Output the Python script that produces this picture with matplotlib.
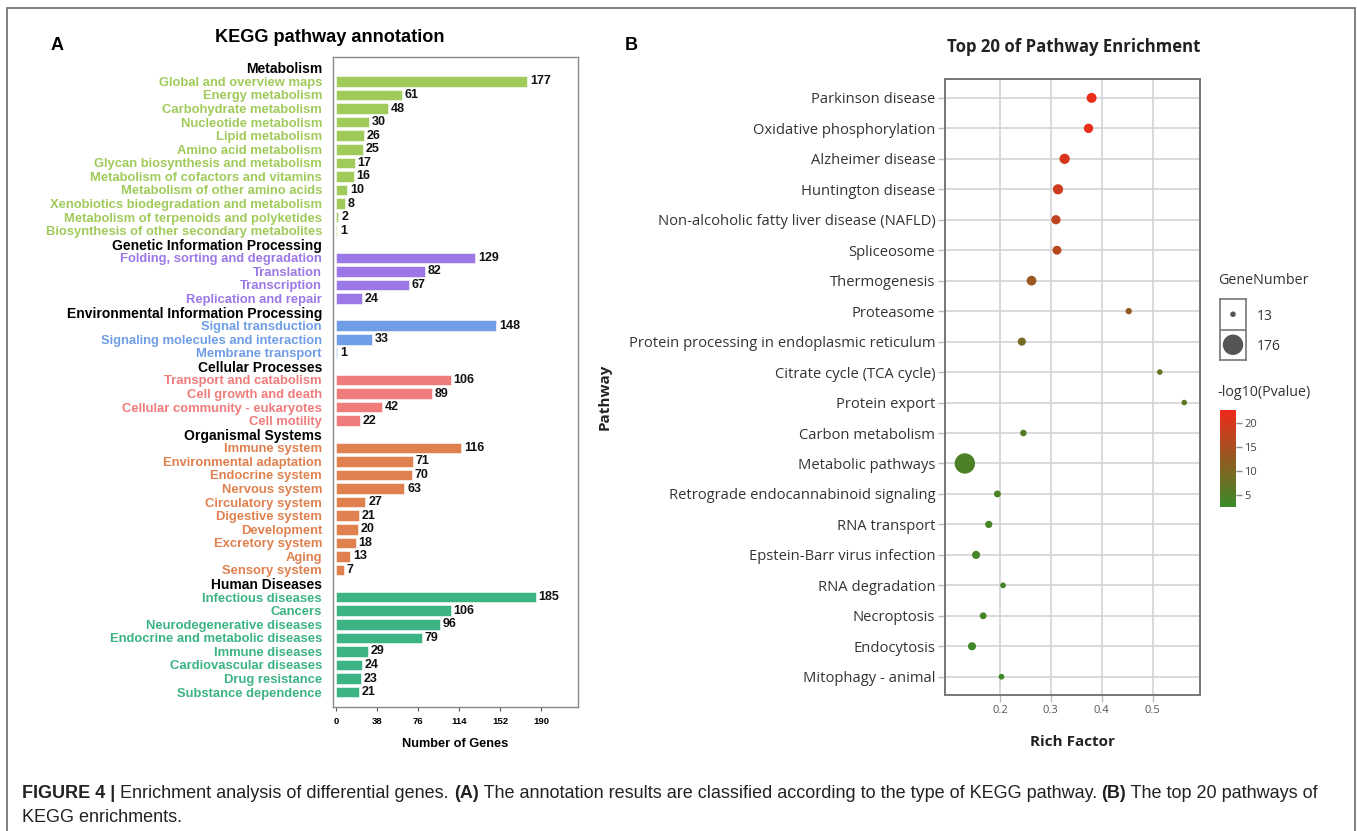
import numpy as np
import matplotlib.pyplot as plt
from matplotlib.colors import LinearSegmentedColormap, Normalize
from matplotlib.patches import Rectangle

plt.rcParams['font.family'] = ['Liberation Sans', 'DejaVu Sans']

W, H = 1357, 831

# ---- panel A data: KEGG level-2 categories grouped by level-1 class ----
groups = ["Metabolism", "Genetic Information Processing",
          "Environmental Information Processing", "Cellular Processes",
          "Organismal Systems", "Human Diseases"]
group_colors = ["#a0cb5a", "#9b78e6", "#6f9de6", "#ef7b7b", "#e0804e", "#3bb383"]

metabolism = ["Global and overview maps", "Energy metabolism", "Carbohydrate metabolism",
              "Nucleotide metabolism", "Lipid metabolism", "Amino acid metabolism",
              "Glycan biosynthesis and metabolism", "Metabolism of cofactors and vitamins",
              "Metabolism of other amino acids", "Xenobiotics biodegradation and metabolism",
              "Metabolism of terpenoids and polyketides",
              "Biosynthesis of other secondary metabolites"]
metabolism_n = [177, 61, 48, 30, 26, 25, 17, 16, 10, 8, 2, 1]

genetic = ["Folding, sorting and degradation", "Translation", "Transcription",
           "Replication and repair"]
genetic_n = [129, 82, 67, 24]

environmental = ["Signal transduction", "Signaling molecules and interaction",
                 "Membrane transport"]
environmental_n = [148, 33, 1]

cellular = ["Transport and catabolism", "Cell growth and death",
            "Cellular community - eukaryotes", "Cell motility"]
cellular_n = [106, 89, 42, 22]

organismal = ["Immune system", "Environmental adaptation", "Endocrine system",
              "Nervous system", "Circulatory system", "Digestive system", "Development",
              "Excretory system", "Aging", "Sensory system"]
organismal_n = [116, 71, 70, 63, 27, 21, 20, 18, 13, 7]

human = ["Infectious diseases", "Cancers", "Neurodegenerative diseases",
         "Endocrine and metabolic diseases", "Immune diseases",
         "Cardiovascular diseases", "Drug resistance", "Substance dependence"]
human_n = [185, 106, 96, 79, 29, 24, 23, 21]

group_items = [metabolism, genetic, environmental, cellular, organismal, human]
group_counts = [metabolism_n, genetic_n, environmental_n, cellular_n, organismal_n, human_n]

# ---- panel B data: top 20 enriched pathways ----
pathways = ["Parkinson disease", "Oxidative phosphorylation", "Alzheimer disease",
            "Huntington disease", "Non-alcoholic fatty liver disease (NAFLD)",
            "Spliceosome", "Thermogenesis", "Proteasome",
            "Protein processing in endoplasmic reticulum", "Citrate cycle (TCA cycle)",
            "Protein export", "Carbon metabolism", "Metabolic pathways",
            "Retrograde endocannabinoid signaling", "RNA transport",
            "Epstein-Barr virus infection", "RNA degradation", "Necroptosis",
            "Endocytosis", "Mitophagy - animal"]
rich_factor = [0.380, 0.374, 0.327, 0.314, 0.310, 0.312, 0.262, 0.453, 0.243, 0.514,
               0.562, 0.246, 0.131, 0.195, 0.178, 0.153, 0.206, 0.167, 0.145, 0.203]
gene_number = [42, 37, 45, 44, 36, 34, 40, 17, 28, 13,
               13, 18, 176, 20, 22, 28, 14, 20, 28, 14]
neg_log_p = [22.3, 21.6, 20.2, 19.2, 17.2, 16.6, 13.2, 12.0, 9.2, 7.0,
             6.6, 5.2, 4.6, 4.4, 4.0, 3.6, 3.8, 3.4, 3.1, 3.0]

SANS_B = ["Open Sans", "DejaVu Sans"]


def px_rect(x0, y0, x1, y1):
    return [x0 / W, 1 - y1 / H, (x1 - x0) / W, (y1 - y0) / H]


fig = plt.figure(figsize=(W / 100, H / 100), dpi=100)

# outer frame
fig.add_artist(Rectangle((7 / W, -0.02), 1348 / W, 1.02 - 8 / H, transform=fig.transFigure,
                         fill=False, edgecolor="#6a6a6a", linewidth=1.2))

# ================= Panel A =================
axA = fig.add_axes(px_rect(333, 57, 578, 707))

labels, colors, is_header = [], [], []
bar_y, bar_v, bar_c = [], [], []
row = 0
for g, items, counts, col in zip(groups, group_items, group_counts, group_colors):
    labels.append(g)
    colors.append("black")
    is_header.append(True)
    row += 1
    for name, n in zip(items, counts):
        labels.append(name)
        colors.append(col)
        is_header.append(False)
        bar_y.append(row)
        bar_v.append(n)
        bar_c.append(col)
        row += 1

axA.barh(bar_y, bar_v, height=0.78, color=bar_c, edgecolor="white", linewidth=0.4)
for y, v in zip(bar_y, bar_v):
    axA.annotate(str(v), (v, y), xytext=(2, 0), textcoords="offset points",
                 va="center", ha="left", fontsize=9, fontweight="bold", color="#111111")

axA.set_xlim(-3, 224)
axA.set_ylim(row - 1 + 1.1, -0.8)
axA.set_yticks(range(row))
axA.set_yticklabels(labels)
for lab, c, hd in zip(axA.get_yticklabels(), colors, is_header):
    lab.set_color(c)
    lab.set_fontweight("bold")
    lab.set_fontsize(10 if hd else 9.4)
axA.tick_params(axis="y", length=0, pad=8)
axA.set_xticks([0, 38, 76, 114, 152, 190])
axA.tick_params(axis="x", length=3, width=0.8, color="#555555", labelsize=6.8, pad=4)
for t in axA.get_xticklabels():
    t.set_fontweight("bold")
for sp in axA.spines.values():
    sp.set_color("#8a8a8a")
    sp.set_linewidth(1.0)
axA.set_xlabel("Number of Genes", fontsize=9.2, fontweight="bold", labelpad=9)

fig.text(330 / W, 1 - 37 / H, "KEGG pathway annotation", ha="center", va="center",
         fontsize=13.1, fontweight="bold")
fig.text(57 / W, 1 - 45 / H, "A", ha="center", va="center", fontsize=13, fontweight="bold")

# ================= Panel B =================
axB = fig.add_axes(px_rect(945, 79, 1200, 695))
cmap = LinearSegmentedColormap.from_list("pv", ["#3a8a28", "#ee2a1a"])
norm = Normalize(vmin=2.5, vmax=22.7)


def dot_size(n):
    return 16 + (np.asarray(n) - 13) * (199.0 / 163)


ypos = np.arange(len(pathways))
axB.scatter(rich_factor, ypos, s=dot_size(gene_number), c=neg_log_p, cmap=cmap, norm=norm,
            linewidths=0, zorder=3)
axB.set_xlim(0.092, 0.593)
axB.set_ylim(len(pathways) - 1 + 0.6, -0.62)
axB.set_yticks(ypos)
axB.set_yticklabels(pathways, fontsize=10.6, color="#333333", family=SANS_B)
axB.set_xticks([0.2, 0.3, 0.4, 0.5])
axB.set_xticklabels(["0.2", "0.3", "0.4", "0.5"], fontsize=8, color="#555555", family=SANS_B)
axB.grid(True, color="#d4d4d4", linewidth=1.2, zorder=0)
axB.set_axisbelow(True)
axB.tick_params(axis="both", length=5, width=1, color="#bbbbbb", pad=2)
for sp in axB.spines.values():
    sp.set_color("#777777")
    sp.set_linewidth(1.4)
axB.set_xlabel("Rich Factor", fontsize=11, fontweight="bold", labelpad=14,
               family=SANS_B, color="#222222")
fig.text(605 / W, 1 - 397 / H, "Pathway", rotation=90, ha="center", va="center",
         fontsize=11, fontweight="bold", family=SANS_B, color="#222222")
fig.text(1074 / W, 1 - 47 / H, "Top 20 of Pathway Enrichment", ha="center", va="center",
         fontsize=12.1, fontweight="bold", family=SANS_B, color="#222222")
fig.text(631 / W, 1 - 45 / H, "B", ha="center", va="center", fontsize=13, fontweight="bold")

# size legend
fig.text(1218 / W, 1 - 281 / H, "GeneNumber", ha="left", va="center", fontsize=10.3,
         family=SANS_B, color="#333333")
axL = fig.add_axes(px_rect(1220, 299, 1246, 360))
axL.set_xlim(0, 1)
axL.set_ylim(0, 2)
axL.axhline(1, color="#777777", linewidth=1.2)
axL.scatter([0.5, 0.5], [1.5, 0.5], s=dot_size([13, 176]), color="#555555", linewidths=0)
axL.set_xticks([])
axL.set_yticks([])
for sp in axL.spines.values():
    sp.set_color("#777777")
    sp.set_linewidth(1.2)
for n, yy in zip([13, 176], [317, 347]):
    fig.text(1257 / W, 1 - yy / H, str(n), ha="left", va="center", fontsize=10,
             family=SANS_B, color="#333333")

# colour legend
fig.text(1217 / W, 1 - 392 / H, "-log10(Pvalue)", ha="left", va="center", fontsize=10.3,
         family=SANS_B, color="#333333")
cax = fig.add_axes(px_rect(1220, 410, 1236, 507))
sm = plt.cm.ScalarMappable(norm=norm, cmap=cmap)
cb = fig.colorbar(sm, cax=cax)
cb.outline.set_visible(False)
cb.set_ticks([5, 10, 15, 20])
cax.tick_params(length=4, width=1, color="#888888", labelsize=8, labelcolor="#444444", pad=2)
for t in cax.get_yticklabels():
    t.set_family(SANS_B)

# ================= caption =================
renderer = fig.canvas.get_renderer()


def text_run(x_px, y_px, pieces, size=13.0):
    x = x_px
    for s, bold in pieces:
        t = fig.text(x / W, 1 - y_px / H, s, ha="left", va="center", fontsize=size,
                     fontweight="bold" if bold else "normal", color="#222222")
        x += t.get_window_extent(renderer).width


text_run(22, 794, [("FIGURE 4 | ", True), ("Enrichment analysis of differential genes. ", False),
                   ("(A)", True),
                   (" The annotation results are classified according to the type of KEGG pathway. ",
                    False),
                   ("(B)", True), (" The top 20 pathways of", False)])
text_run(22, 818, [("KEGG enrichments.", False)])

fig.savefig("out.png", dpi=100)
